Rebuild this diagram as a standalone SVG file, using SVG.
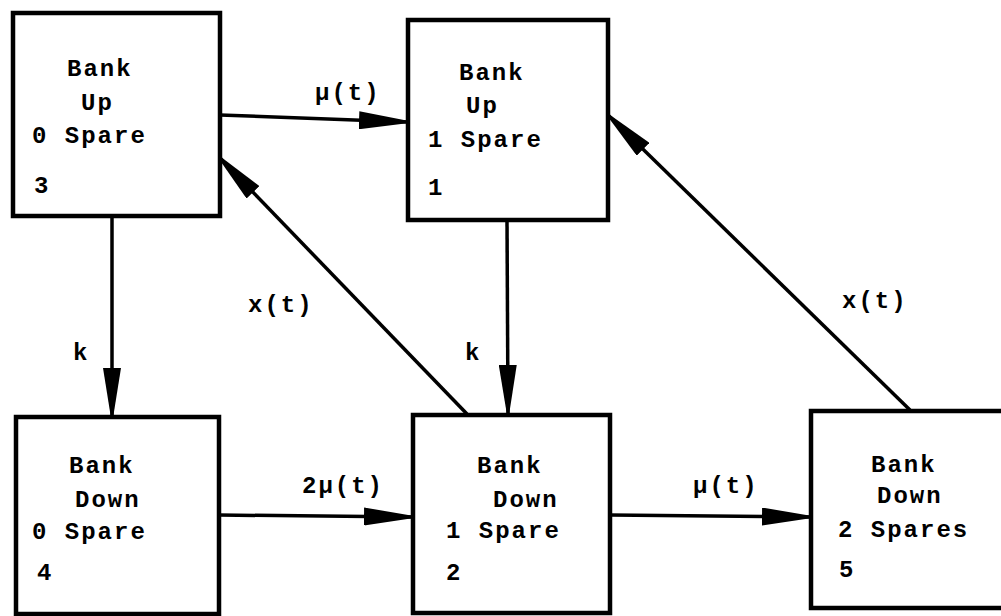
<svg xmlns="http://www.w3.org/2000/svg" width="1001" height="616" viewBox="0 0 1001 616">
<style>
.box{fill:#fff;stroke:#000;stroke-width:4.5}
.lbl{font-family:"Liberation Mono","DejaVu Sans Mono",monospace;font-weight:bold;font-size:24px;letter-spacing:2px;fill:#000}
.edge{fill:none;stroke:#000;stroke-width:3.5;marker-end:url(#ah)}
</style>
<defs>
<marker id="ah" viewBox="0 0 50 18" refX="49" refY="9" markerWidth="50" markerHeight="18" markerUnits="userSpaceOnUse" orient="auto">
<path d="M0,0 L50,8 L50,10 L0,18 Z" fill="#000"/>
</marker>
</defs>
<rect width="1001" height="616" fill="#fff"/>
<g id="connectors">
<path class="edge" d="M220,115 L408,122"/>
<path class="edge" d="M112,216 L112,417"/>
<path class="edge" d="M467,414 L219,157"/>
<path class="edge" d="M507,220 L508,414"/>
<path class="edge" d="M910,410 L608,115"/>
<path class="edge" d="M219,515 L413,517"/>
<path class="edge" d="M610,515 L811,517"/>
<text class="lbl" x="315" y="100">μ(t)</text>
<text class="lbl" x="73" y="360">k</text>
<text class="lbl" x="248" y="312">x(t)</text>
<text class="lbl" x="465" y="360">k</text>
<text class="lbl" x="842" y="308">x(t)</text>
<text class="lbl" x="302" y="493">2μ(t)</text>
<text class="lbl" x="693" y="493">μ(t)</text>
</g>
<g id="n3">
<rect class="box" x="13" y="13" width="207" height="203"/>
<text class="lbl" x="67" y="76">Bank</text>
<text class="lbl" x="81" y="110">Up</text>
<text class="lbl" x="32" y="143">0 Spare</text>
<text class="lbl" x="34" y="193">3</text>
</g>
<g id="n1">
<rect class="box" x="408" y="20" width="200" height="200"/>
<text class="lbl" x="459" y="80">Bank</text>
<text class="lbl" x="466" y="113">Up</text>
<text class="lbl" x="428" y="147">1 Spare</text>
<text class="lbl" x="428" y="195">1</text>
</g>
<g id="n4">
<rect class="box" x="16" y="417" width="203" height="197"/>
<text class="lbl" x="69" y="473">Bank</text>
<text class="lbl" x="75" y="507">Down</text>
<text class="lbl" x="32" y="539">0 Spare</text>
<text class="lbl" x="37" y="580">4</text>
</g>
<g id="n2">
<rect class="box" x="413" y="415" width="197" height="198"/>
<text class="lbl" x="477" y="473">Bank</text>
<text class="lbl" x="493" y="507">Down</text>
<text class="lbl" x="446" y="538">1 Spare</text>
<text class="lbl" x="446" y="580">2</text>
</g>
<g id="n5">
<rect class="box" x="811" y="411" width="200" height="197"/>
<text class="lbl" x="871" y="472">Bank</text>
<text class="lbl" x="877" y="503">Down</text>
<text class="lbl" x="838" y="537">2 Spares</text>
<text class="lbl" x="839" y="577">5</text>
</g>
</svg>
